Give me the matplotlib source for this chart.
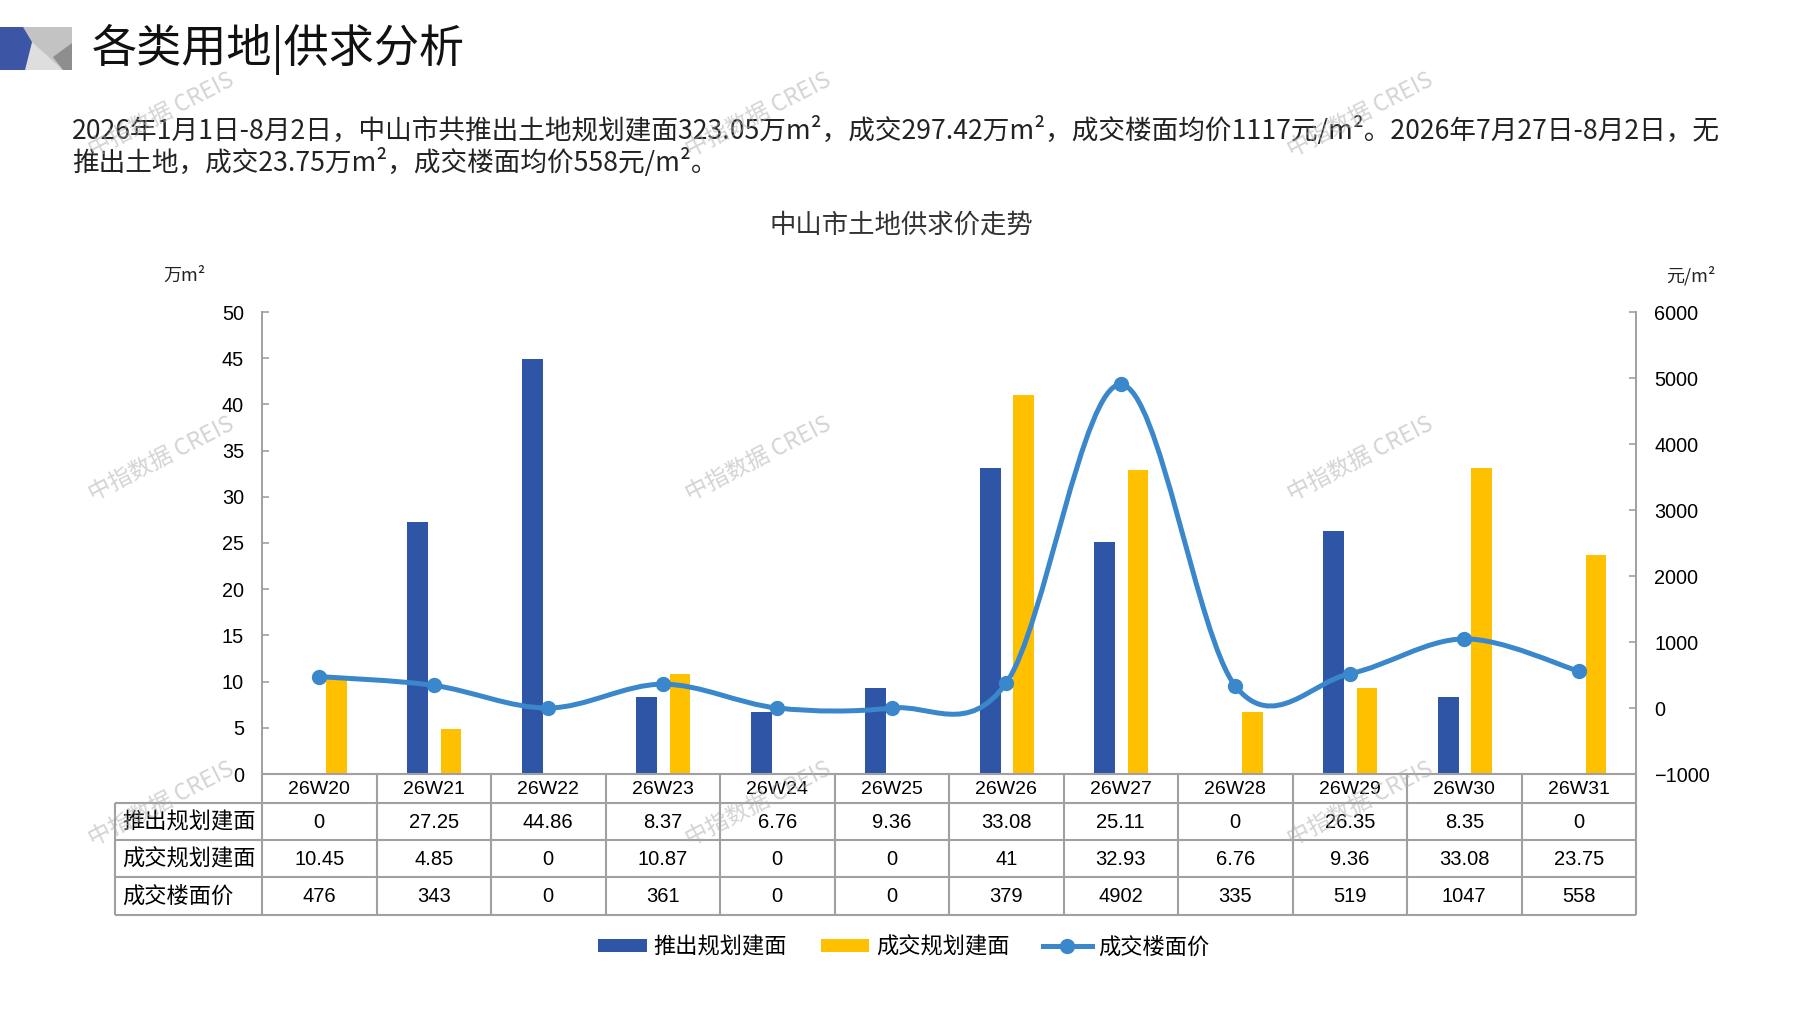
import numpy as np
import matplotlib
matplotlib.use('Agg')
import matplotlib.pyplot as plt
from matplotlib.path import Path
from matplotlib.patches import PathPatch, Polygon, Patch
from matplotlib.lines import Line2D

# ---------------- data ----------------
categories = ['26W20', '26W21', '26W22', '26W23', '26W24', '26W25',
              '26W26', '26W27', '26W28', '26W29', '26W30', '26W31']
supply = [0, 27.25, 44.86, 8.37, 6.76, 9.36, 33.08, 25.11, 0, 26.35, 8.35, 0]
deal = [10.45, 4.85, 0, 10.87, 0, 0, 41, 32.93, 6.76, 9.36, 33.08, 23.75]
price = [476, 343, 0, 361, 0, 0, 379, 4902, 335, 519, 1047, 558]
left_ticks = [0, 5, 10, 15, 20, 25, 30, 35, 40, 45, 50]
right_ticks = [-1000, 0, 1000, 2000, 3000, 4000, 5000, 6000]
series_names = ['推出规划建面', '成交规划建面', '成交楼面价']

title = '各类用地|供求分析'
para1 = '2026年1月1日-8月2日，中山市共推出土地规划建面323.05万m²，成交297.42万m²，成交楼面均价1117元/m²。2026年7月27日-8月2日，无'
para2 = '推出土地，成交23.75万m²，成交楼面均价558元/m²。'
chart_title = '中山市土地供求价走势'
left_unit = '万m²'
right_unit = '元/m²'
watermark = '中指数据 CREIS'

# ---------------- style ----------------
BLUE = '#2F56A6'
YEL = '#FFC000'
LINE = '#3A87CC'
GRID = '#A0A0A0'
CJK = ['Noto Sans CJK SC', 'DejaVu Sans']
NUM = ['Liberation Sans', 'DejaVu Sans']

W, H = 1797, 1010
fig = plt.figure(figsize=(W / 100, H / 100), dpi=100)
fig.patch.set_facecolor('white')


def fx(px):
    return px / W


def fy(py):
    return 1 - py / H


PL, PR, PT, PB = 262, 1636, 312, 774

# ---------------- main plot ----------------
ax = fig.add_axes([fx(PL), fy(PB), fx(PR) - fx(PL), fy(PT) - fy(PB)])
x = np.arange(len(categories))
ax.bar(x - 0.14, supply, 0.18, color=BLUE, zorder=2)
ax.bar(x + 0.15, deal, 0.18, color=YEL, zorder=2)
ax.set_xlim(-0.5, len(categories) - 0.5)
ax.set_ylim(left_ticks[0], left_ticks[-1])
ax.set_yticks(left_ticks)
ax.set_xticks([])
for s in ['top', 'bottom', 'right']:
    ax.spines[s].set_visible(False)
ax.spines['left'].set_color(GRID)
ax.spines['left'].set_linewidth(1.4)
ax.tick_params(axis='y', direction='in', length=5, width=1.2, color=GRID,
               labelsize=14.3, pad=13)
for lab in ax.get_yticklabels():
    lab.set_family(NUM)

ax2 = ax.twinx()
ax2.set_ylim(right_ticks[0], right_ticks[-1])
ax2.set_yticks(right_ticks)
for s in ['top', 'bottom', 'left']:
    ax2.spines[s].set_visible(False)
ax2.spines['right'].set_color(GRID)
ax2.spines['right'].set_linewidth(1.4)
ax2.tick_params(axis='y', direction='in', length=5, width=1.2, color=GRID,
                labelsize=14.3, pad=13)
for lab in ax2.get_yticklabels():
    lab.set_family(NUM)


def smooth_path(xs, ys):
    pts = np.column_stack([xs, ys]).astype(float)
    n = len(pts)
    verts = [pts[0]]
    codes = [Path.MOVETO]
    for i in range(n - 1):
        p0 = pts[i - 1] if i > 0 else pts[i]
        p1 = pts[i]
        p2 = pts[i + 1]
        p3 = pts[i + 2] if i + 2 < n else pts[i + 1]
        c1 = p1 + (p2 - p0) / 6.0
        c2 = p2 - (p3 - p1) / 6.0
        verts += [c1, c2, p2]
        codes += [Path.CURVE4] * 3
    return Path(verts, codes)


ax2.add_patch(PathPatch(smooth_path(x, price), fill=False, edgecolor=LINE,
                        lw=3.6, capstyle='round', joinstyle='round', zorder=3))
ax2.plot(x, price, 'o', ms=10, color=LINE, zorder=4)

# ---------------- table ----------------
colw = (PR - PL) / len(categories)
TL = 115
xl = -0.5 - (PL - TL) / colw
xr = len(categories) - 0.5
rows_y = [774, 803, 840, 877, 915]
ta = fig.add_axes([fx(TL), fy(rows_y[-1]), fx(PR) - fx(TL), fy(rows_y[0]) - fy(rows_y[-1])])
ta.set_xlim(xl, xr)
ta.set_ylim(rows_y[-1], rows_y[0])
ta.axis('off')
lw_t = 1.5
ta.hlines(rows_y[0], -0.5, xr, color=GRID, lw=lw_t, clip_on=False)
for yy in rows_y[1:]:
    ta.hlines(yy, xl, xr, color=GRID, lw=lw_t, clip_on=False)
for k in range(len(categories) + 1):
    ta.vlines(-0.5 + k, rows_y[0], rows_y[-1], color=GRID, lw=lw_t, clip_on=False)
ta.vlines(xl, rows_y[1], rows_y[-1], color=GRID, lw=lw_t, clip_on=False)

ymid = [(rows_y[i] + rows_y[i + 1]) / 2 for i in range(4)]
for i, c in enumerate(categories):
    ta.text(i, ymid[0] + 1, c, ha='center', va='center', fontsize=14, family=NUM)
for r, vals in enumerate([supply, deal, price]):
    for i, v in enumerate(vals):
        ta.text(i, ymid[r + 1] + 1, '{:g}'.format(v), ha='center', va='center',
                fontsize=14.5, family=NUM)
    ta.text(xl + 7 / colw, ymid[r + 1], series_names[r], ha='left', va='center',
            fontsize=16, family=CJK)

# ---------------- legend ----------------
handles = [Patch(facecolor=BLUE), Patch(facecolor=YEL),
           Line2D([], [], color=LINE, lw=3.6, marker='o', ms=10)]
leg = fig.legend(handles, series_names, loc='center', bbox_to_anchor=(fx(904), fy(947)),
                 ncol=3, frameon=False, prop={'family': CJK, 'size': 16},
                 handlelength=2.2, handleheight=0.55, handletextpad=0.3, columnspacing=1.5)

# ---------------- overlay: header, texts, watermarks ----------------
ov = fig.add_axes([0, 0, 1, 1], zorder=10)
ov.set_xlim(0, W)
ov.set_ylim(H, 0)
ov.axis('off')
ov.patch.set_alpha(0)

# logo
ov.add_patch(Polygon([(0, 27), (72, 27), (72, 70), (0, 70)], closed=True,
                     facecolor='#C3C3C3', edgecolor='none'))
ov.add_patch(Polygon([(32, 42), (63, 70), (25, 70)], closed=True,
                     facecolor='#DEDEDE', edgecolor='none'))
ov.add_patch(Polygon([(72, 43), (53, 57), (63, 70), (72, 70)], closed=True,
                     facecolor='#8E8E8E', edgecolor='none'))
ov.add_patch(Polygon([(0, 27), (23, 27), (32, 42), (25, 70), (0, 70)], closed=True,
                     facecolor='#3D55A5', edgecolor='none'))

ov.text(92, 49, title, ha='left', va='center', fontsize=32.5, family=CJK, color='#111111')
ov.text(72, 130, para1, ha='left', va='center', fontsize=19.2, family=CJK, color='#222222')
ov.text(72, 162, para2, ha='left', va='center', fontsize=19.2, family=CJK, color='#222222')
ov.text(901, 225, chart_title, ha='center', va='center', fontsize=19, family=CJK, color='#333333')
ov.text(184, 276, left_unit, ha='center', va='center', fontsize=13, family=CJK, color='#222222')
ov.text(1691, 276, right_unit, ha='center', va='center', fontsize=13, family=CJK, color='#222222')

for wx in [161, 758, 1360]:
    for wy in [115, 459, 804]:
        ov.text(wx, wy, watermark, ha='center', va='center', fontsize=16.5, family=CJK,
                color='#B0B0B0', alpha=0.55, rotation=27, rotation_mode='anchor')

fig.savefig('out.png', dpi=100, facecolor='white')
